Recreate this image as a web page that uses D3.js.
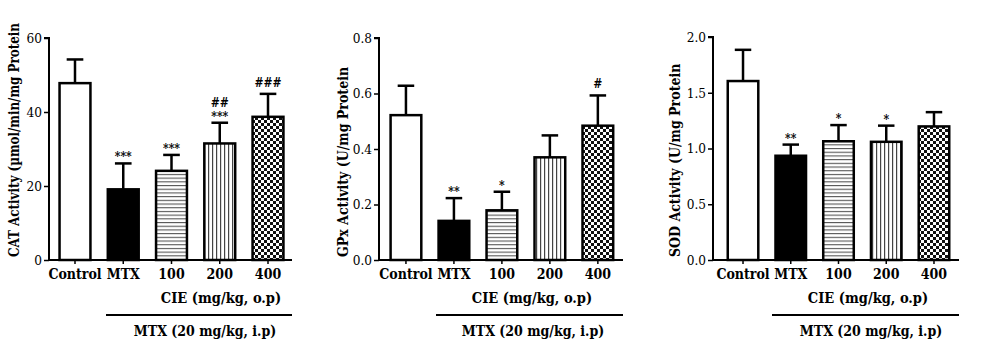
<!DOCTYPE html>
<html>
<head>
<meta charset="utf-8">
<script src="https://cdn.jsdelivr.net/npm/d3@7"></script>
<style>
  html, body { margin: 0; padding: 0; background: #fff; }
  svg { display: block; }
</style>
</head>
<body>
<svg id="chart" width="1000" height="339"></svg>
<script>
// ---------- DATA ----------
const categories = ["Control", "MTX", "100", "200", "400"];
const patterns   = ["white", "black", "hlines", "vlines", "checker"];

const catMeans = [47.8, 19.1, 24.1, 31.5, 38.7];
const catErrs  = [6.4, 7.0, 4.3, 5.6, 6.2];
const catMarks = ["", "***", "***", "***", "###"];
const catMarks2 = ["", "", "", "##", ""];
const catTicks = [0, 20, 40, 60];

const gpxMeans = [0.522, 0.141, 0.179, 0.370, 0.484];
const gpxErrs  = [0.106, 0.082, 0.067, 0.079, 0.109];
const gpxMarks = ["", "**", "*", "", "#"];
const gpxTicks = [0.0, 0.2, 0.4, 0.6, 0.8];

const sodMeans = [1.605, 0.935, 1.065, 1.06, 1.198];
const sodErrs  = [0.28, 0.10, 0.145, 0.145, 0.128];
const sodMarks = ["", "**", "*", "*", ""];
const sodTicks = [0.0, 0.5, 1.0, 1.5, 2.0];

const yLabels = ["CAT Activity (µmol/min/mg Protein", "GPx Activity (U/mg Protein", "SOD Activity (U/mg Protein"];
const cieLabel = "CIE (mg/kg, o.p)";
const mtxLabel = "MTX (20 mg/kg, i.p)";

// ---------- LAYOUT ----------
const panels = [
  { means: catMeans, errs: catErrs, marks: catMarks, marks2: catMarks2, ticks: catTicks, max: 60, fmt: d3.format("d"),
    axisX: 49, axisEnd: 292, band: [48.7, 294.3], top: 38, label: yLabels[0], labelX: 19, labelLen: 234,
    lineStart: 106, cieX: 221, mtxX: 205 },
  { means: gpxMeans, errs: gpxErrs, marks: gpxMarks, marks2: null, ticks: gpxTicks, max: 0.8, fmt: d3.format(".1f"),
    axisX: 379, axisEnd: 623, band: [379.8, 624], top: 38, label: yLabels[1], labelX: 348, labelLen: 196,
    lineStart: 436, cieX: 532, mtxX: 533 },
  { means: sodMeans, errs: sodErrs, marks: sodMarks, marks2: null, ticks: sodTicks, max: 2.0, fmt: d3.format(".1f"),
    axisX: 713, axisEnd: 959, band: [717, 960], top: 37, label: yLabels[2], labelX: 680, labelLen: 195,
    lineStart: 772, cieX: 868, mtxX: 871 }
];
const baseY = 260;
const FONT = "'DejaVu Serif Condensed', 'DejaVu Serif', serif";

const svg = d3.select("#chart");
const defs = svg.append("defs");

// hatch patterns
const ph = defs.append("pattern").attr("id", "hlines").attr("patternUnits", "userSpaceOnUse")
  .attr("width", 6).attr("height", 3.7);
ph.append("rect").attr("width", 6).attr("height", 3.7).attr("fill", "#fff");
ph.append("rect").attr("y", 0).attr("width", 6).attr("height", 1.1).attr("fill", "#555");

const pv = defs.append("pattern").attr("id", "vlines").attr("patternUnits", "userSpaceOnUse")
  .attr("width", 4).attr("height", 6);
pv.append("rect").attr("width", 4).attr("height", 6).attr("fill", "#fff");
pv.append("rect").attr("x", 0).attr("width", 1.2).attr("height", 6).attr("fill", "#444");

const pc = defs.append("pattern").attr("id", "checker").attr("patternUnits", "userSpaceOnUse")
  .attr("width", 6).attr("height", 6);
pc.append("rect").attr("width", 6).attr("height", 6).attr("fill", "#fff");
pc.append("rect").attr("width", 3).attr("height", 3).attr("fill", "#111");
pc.append("rect").attr("x", 3).attr("y", 3).attr("width", 3).attr("height", 3).attr("fill", "#111");

function fillFor(p) {
  if (p === "white") return "#fff";
  if (p === "black") return "#000";
  return "url(#" + p + ")";
}

function fitText(sel, len) {
  const n = sel.node();
  if (n.getComputedTextLength() > len) sel.attr("textLength", len).attr("lengthAdjust", "spacingAndGlyphs");
}

panels.forEach(P => {
  const g = svg.append("g");
  const x = d3.scaleBand().domain(categories).range(P.band).paddingInner(0.31).paddingOuter(0.2);
  const y = d3.scaleLinear().domain([0, P.max]).range([baseY, P.top]);
  const bw = x.bandwidth();

  // error bars (upper only)
  const eg = g.append("g");
  categories.forEach((c, i) => {
    const cx = x(c) + bw / 2;
    eg.append("line").attr("x1", cx).attr("x2", cx)
      .attr("y1", y(P.means[i])).attr("y2", y(P.means[i] + P.errs[i]))
      .attr("stroke", "#000").attr("stroke-width", 2.5);
    eg.append("line").attr("x1", cx - bw * 0.25).attr("x2", cx + bw * 0.25)
      .attr("y1", y(P.means[i] + P.errs[i])).attr("y2", y(P.means[i] + P.errs[i]))
      .attr("stroke", "#000").attr("stroke-width", 2.5);
  });

  // bars
  g.append("g").selectAll("rect").data(categories).join("rect")
    .attr("x", c => x(c) + 1.2)
    .attr("y", (c, i) => y(P.means[i]))
    .attr("width", bw - 2.4)
    .attr("height", (c, i) => baseY - y(P.means[i]))
    .attr("fill", (c, i) => fillFor(patterns[i]))
    .attr("stroke", "#000").attr("stroke-width", 2.5);

  // significance marks
  categories.forEach((c, i) => {
    const cx = x(c) + bw / 2;
    const topY = y(P.means[i] + P.errs[i]);
    if (P.marks[i]) {
      const isHash = P.marks[i][0] === "#";
      g.append("text").attr("x", cx).attr("y", isHash ? topY - 7 : topY - 2)
        .attr("text-anchor", "middle")
        .attr("font-family", FONT).attr("font-weight", "bold")
        .attr("font-size", 12).attr("fill", "#000")
        .text(P.marks[i]);
    }
    if (P.marks2 && P.marks2[i]) {
      g.append("text").attr("x", cx).attr("y", topY - 16)
        .attr("text-anchor", "middle")
        .attr("font-family", FONT).attr("font-weight", "bold")
        .attr("font-size", 12).attr("fill", "#000")
        .text(P.marks2[i]);
    }
  });

  // y axis
  const ya = g.append("g").attr("transform", `translate(${P.axisX},0)`)
    .call(d3.axisLeft(y).tickValues(P.ticks).tickFormat(P.fmt).tickSize(5).tickPadding(2));
  ya.select(".domain").attr("stroke-width", 2).attr("d", `M-5,${y(P.max)}H0V${baseY}`);
  ya.selectAll(".tick line").attr("stroke-width", 1.5);
  ya.selectAll(".tick text").attr("font-family", FONT).attr("font-size", 13.5).attr("fill", "#000");

  // x axis
  const xa = g.append("g").attr("transform", `translate(0,${baseY})`)
    .call(d3.axisBottom(x).tickSize(4).tickPadding(5));
  xa.select(".domain").attr("stroke-width", 2).attr("d", `M${P.axisX},0H${P.axisEnd}`);
  xa.selectAll(".tick line").attr("stroke-width", 1.5);
  xa.selectAll(".tick text").attr("font-family", FONT).attr("font-weight", "bold")
    .attr("font-size", 14).attr("fill", "#000");

  // y label
  const yl = g.append("text")
    .attr("transform", `translate(${P.labelX},257) rotate(-90)`)
    .attr("text-anchor", "start")
    .attr("font-family", FONT).attr("font-weight", "bold").attr("font-size", 14)
    .text(P.label);
  fitText(yl, P.labelLen);

  // group labels
  g.append("text").attr("x", P.cieX).attr("y", 303)
    .attr("text-anchor", "middle").attr("font-family", FONT).attr("font-weight", "bold").attr("font-size", 14.5)
    .text(cieLabel);
  g.append("line").attr("x1", P.lineStart).attr("x2", P.axisEnd).attr("y1", 315).attr("y2", 315)
    .attr("stroke", "#000").attr("stroke-width", 2);
  g.append("text").attr("x", P.mtxX).attr("y", 336)
    .attr("text-anchor", "middle").attr("font-family", FONT).attr("font-weight", "bold").attr("font-size", 14)
    .text(mtxLabel);
});
</script>
</body>
</html>
